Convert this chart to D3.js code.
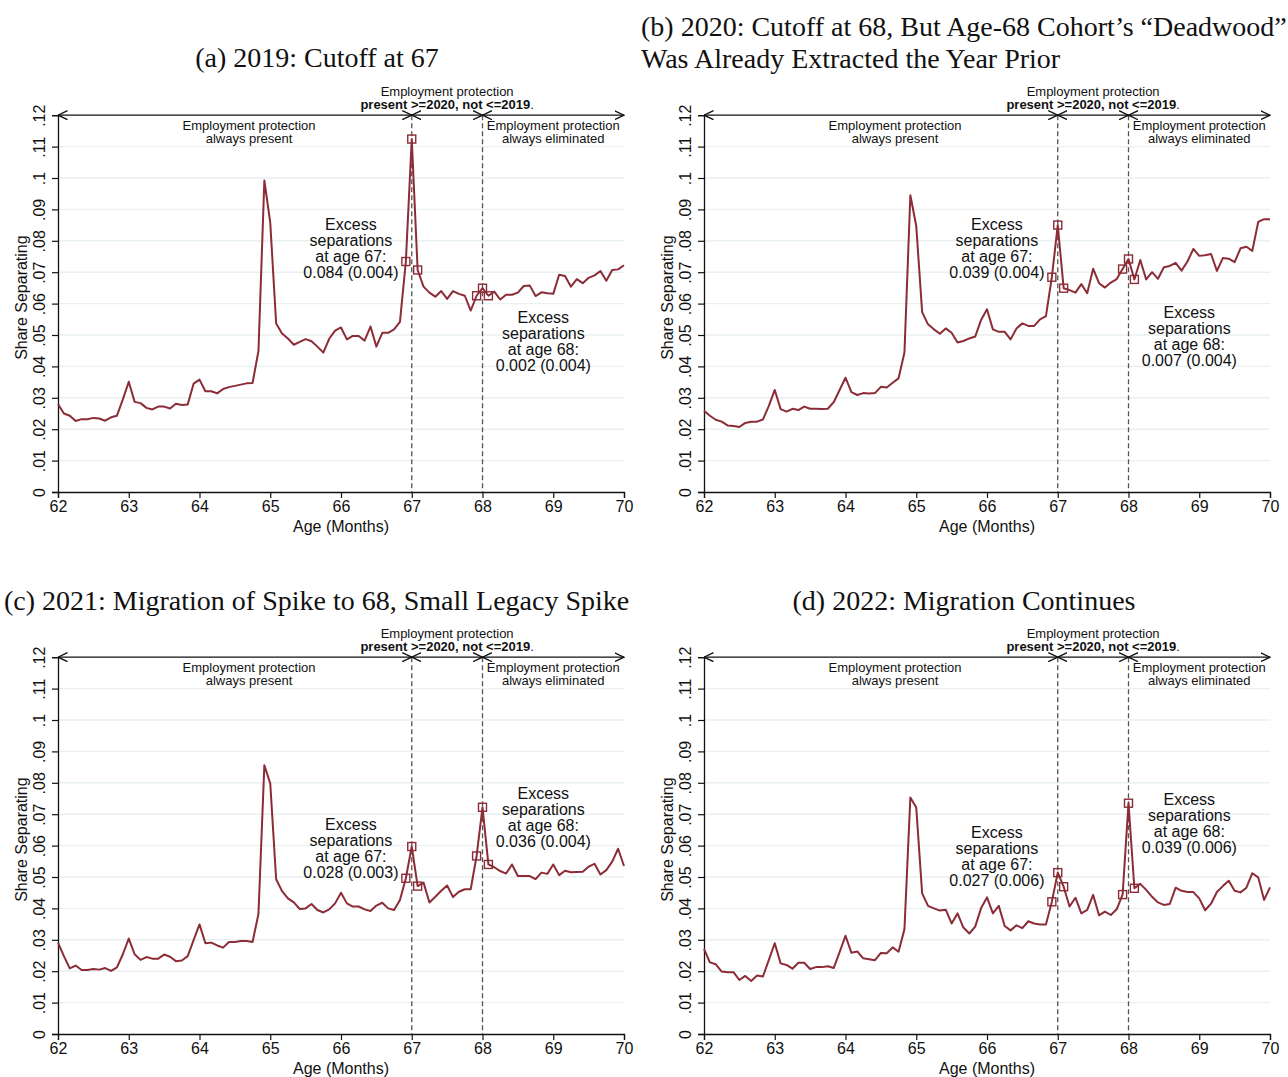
<!DOCTYPE html>
<html>
<head>
<meta charset="utf-8">
<script src="https://cdn.jsdelivr.net/npm/d3@7"></script>
<style>
  body { margin: 0; background: #fff; }
  text { font-family: "Liberation Sans", Arial, sans-serif; fill: #111; }
  .title { font-family: "Liberation Serif", "Times New Roman", serif; font-size: 28px; }
</style>
</head>
<body>
<svg id="chart" width="1288" height="1077"></svg>
<script>
// months since age 62 (0..96), one point per month
var months = d3.range(0, 97);

var share2019 = [
  .0280, .0250, .0243, .0226, .0232, .0232, .0236, .0234, .0227, .0238, .0243, .0295, .0351,
  .0287, .0283, .0268, .0263, .0272, .0272, .0266, .0281, .0277, .0279, .0345, .0358,
  .0321, .0321, .0314, .0328, .0334, .0338, .0342, .0346, .0347, .0449, .0992, .0858,
  .0537, .0505, .0489, .0469, .0478, .0487, .0480, .0463, .0444, .0488, .0514, .0524,
  .0486, .0497, .0497, .0482, .0527, .0463, .0507, .0507, .0518, .0542, .0734, .1124,
  .0707, .0654, .0635, .0622, .0640, .0615, .0640, .0631, .0625, .0578, .0625, .0649,
  .0625, .0638, .0613, .0628, .0628, .0635, .0656, .0658, .0624, .0636, .0633, .0631,
  .0692, .0688, .0654, .0678, .0665, .0682, .0690, .0704, .0673, .0707, .0709, .0722
];

var share2020 = [
  .0259, .0243, .0230, .0224, .0212, .0210, .0207, .0220, .0224, .0224, .0231, .0274, .0325,
  .0264, .0256, .0265, .0261, .0272, .0265, .0265, .0264, .0265, .0286, .0325, .0364,
  .0318, .0309, .0315, .0314, .0315, .0335, .0333, .0348, .0362, .0444, .0945, .0847,
  .0573, .0534, .0518, .0504, .0521, .0507, .0476, .0481, .0489, .0495, .0548, .0582,
  .0518, .0510, .0510, .0486, .0521, .0537, .0529, .0529, .0550, .0560, .0684, .0850,
  .0649, .0643, .0635, .0662, .0633, .0711, .0665, .0651, .0667, .0678, .0710, .0742,
  .0677, .0739, .0677, .0700, .0679, .0716, .0720, .0730, .0705, .0734, .0774, .0752,
  .0754, .0758, .0704, .0745, .0743, .0732, .0776, .0781, .0768, .0860, .0869, .0869
];

var share2021 = [
  .0291, .0248, .0209, .0218, .0204, .0204, .0207, .0205, .0210, .0201, .0212, .0254, .0304,
  .0254, .0236, .0245, .0240, .0240, .0253, .0246, .0232, .0234, .0248, .0299, .0349,
  .0289, .0291, .0282, .0275, .0293, .0293, .0296, .0296, .0293, .0382, .0856, .0798,
  .0493, .0455, .0432, .0419, .0398, .0400, .0414, .0395, .0387, .0397, .0416, .0450,
  .0416, .0406, .0406, .0397, .0392, .0409, .0418, .0400, .0395, .0427, .0496, .0597,
  .0471, .0482, .0419, .0437, .0456, .0473, .0436, .0453, .0461, .0461, .0567, .0722,
  .0540, .0531, .0519, .0511, .0540, .0503, .0503, .0503, .0493, .0514, .0510, .0540,
  .0506, .0520, .0515, .0516, .0517, .0533, .0542, .0508, .0522, .0549, .0590, .0535
];

var share2022 = [
  .0271, .0228, .0222, .0199, .0197, .0197, .0172, .0185, .0169, .0186, .0183, .0236, .0289,
  .0225, .0220, .0208, .0227, .0227, .0207, .0213, .0213, .0216, .0210, .0261, .0313,
  .0259, .0263, .0241, .0238, .0235, .0258, .0257, .0276, .0262, .0334, .0753, .0721,
  .0448, .0408, .0400, .0393, .0396, .0352, .0384, .0339, .0320, .0342, .0401, .0435,
  .0384, .0408, .0344, .0330, .0346, .0337, .0359, .0352, .0349, .0349, .0421, .0514,
  .0469, .0406, .0434, .0384, .0395, .0443, .0378, .0390, .0379, .0397, .0444, .0735,
  .0464, .0478, .0459, .0437, .0419, .0411, .0414, .0466, .0456, .0452, .0452, .0432,
  .0394, .0415, .0452, .0471, .0488, .0456, .0451, .0466, .0512, .0499, .0427, .0467
];

// months that get a hollow square marker (around 67 and 68)
var markerMonths = [59, 60, 61, 71, 72, 73];

var yTicks = [0, .01, .02, .03, .04, .05, .06, .07, .08, .09, .10, .11, .12];
var xTicks = [62, 63, 64, 65, 66, 67, 68, 69, 70];

var excess67 = ["0.084 (0.004)", "0.039 (0.004)", "0.028 (0.003)", "0.027 (0.006)"];
var excess68 = ["0.002 (0.004)", "0.007 (0.004)", "0.036 (0.004)", "0.039 (0.006)"];

var panels = [
  { series: share2019, x: 58,  y: 115.2, ann67: [66.14, .0854], ann68: [68.86, .0556] },
  { series: share2020, x: 704, y: 115.2, ann67: [66.14, .0854], ann68: [68.86, .0574] },
  { series: share2021, x: 58,  y: 657.2, ann67: [66.14, .0668], ann68: [68.86, .0767] },
  { series: share2022, x: 704, y: 657.2, ann67: [66.14, .0644], ann68: [68.86, .0748] }
];

var lineColor = "#8b2c37";
var width = 566, height = 376.8;

var svg = d3.select("#chart");

svg.append("defs").append("marker")
  .attr("id", "arrow")
  .attr("viewBox", "0 -5 10 10")
  .attr("refX", 9.5).attr("refY", 0)
  .attr("markerWidth", 10).attr("markerHeight", 10)
  .attr("markerUnits", "userSpaceOnUse")
  .attr("orient", "auto-start-reverse")
  .append("path")
  .attr("d", "M0,-4.5L9.5,0L0,4.5")
  .attr("fill", "none")
  .attr("stroke", "#111")
  .attr("stroke-width", 1.3);

// titles
svg.append("text").attr("class", "title").attr("x", 317).attr("y", 57)
  .attr("text-anchor", "middle").attr("dominant-baseline", "central")
  .text("(a) 2019: Cutoff at 67");
svg.append("text").attr("class", "title").attr("x", 641).attr("y", 26)
  .attr("dominant-baseline", "central")
  .text("(b) 2020: Cutoff at 68, But Age-68 Cohort\u2019s \u201cDeadwood\u201d");
svg.append("text").attr("class", "title").attr("x", 641).attr("y", 58)
  .attr("dominant-baseline", "central")
  .text("Was Already Extracted the Year Prior");
svg.append("text").attr("class", "title").attr("x", 4).attr("y", 600)
  .attr("dominant-baseline", "central")
  .text("(c) 2021: Migration of Spike to 68, Small Legacy Spike");
svg.append("text").attr("class", "title").attr("x", 964).attr("y", 600)
  .attr("text-anchor", "middle").attr("dominant-baseline", "central")
  .text("(d) 2022: Migration Continues");

var x = d3.scaleLinear().domain([62, 70]).range([0, width]);
var y = d3.scaleLinear().domain([0, .12]).range([height, 0]);

function age(m) { return 62 + m / 12; }

panels.forEach(function (p, pi) {
  var g = svg.append("g").attr("transform", "translate(" + p.x + "," + p.y + ")");

  // gridlines
  g.selectAll(".grid")
    .data(yTicks.filter(function (d) { return d > 0 && d < .12; }))
    .enter().append("line")
    .attr("x1", 0).attr("x2", width)
    .attr("y1", function (d) { return y(d); })
    .attr("y2", function (d) { return y(d); })
    .attr("stroke", "#e8f0f1")
    .attr("stroke-width", 1.4);

  // y axis
  var yAxis = d3.axisLeft(y).tickValues(yTicks).tickSize(6)
    .tickFormat(function (d) { return d === 0 ? "0" : d3.format(".2~f")(d).replace(/^0/, ""); });
  var ya = g.append("g").call(yAxis);
  ya.select(".domain").attr("stroke", "#111").attr("stroke-width", 1.3);
  ya.selectAll(".tick line").attr("stroke", "#111").attr("stroke-width", 1.2);
  ya.selectAll(".tick text")
    .attr("x", null).attr("dy", null)
    .attr("font-size", 16)
    .attr("font-family", "Liberation Sans, Arial, sans-serif")
    .attr("fill", "#111")
    .attr("text-anchor", "middle")
    .attr("transform", "translate(-13,0) rotate(-90)");

  // x axis
  var xAxis = d3.axisBottom(x).tickValues(xTicks).tickSize(6).tickFormat(d3.format("d"));
  var xa = g.append("g").attr("transform", "translate(0," + height + ")").call(xAxis);
  xa.select(".domain").attr("stroke", "#111").attr("stroke-width", 1.3);
  xa.selectAll(".tick line").attr("stroke", "#111").attr("stroke-width", 1.2);
  xa.selectAll(".tick text")
    .attr("font-size", 16)
    .attr("font-family", "Liberation Sans, Arial, sans-serif")
    .attr("fill", "#111")
    .attr("y", 9);

  // axis titles
  g.append("text")
    .attr("transform", "translate(" + (-31) + "," + (height / 2 - 6) + ") rotate(-90)")
    .attr("text-anchor", "middle").attr("font-size", 16)
    .text("Share Separating");
  g.append("text")
    .attr("x", width / 2).attr("y", height + 40)
    .attr("text-anchor", "middle").attr("font-size", 16)
    .text("Age (Months)");

  // dashed cutoffs
  g.selectAll(".cut").data([67, 68]).enter().append("line")
    .attr("x1", function (d) { return x(d); })
    .attr("x2", function (d) { return x(d); })
    .attr("y1", y(.12)).attr("y2", height)
    .attr("stroke", "#555").attr("stroke-width", 1.3)
    .attr("stroke-dasharray", "5,3");

  // arrows along the top
  [[62, 67], [67, 68], [68, 70]].forEach(function (seg) {
    g.append("line")
      .attr("x1", x(seg[0])).attr("x2", x(seg[1]))
      .attr("y1", y(.12)).attr("y2", y(.12))
      .attr("stroke", "#111").attr("stroke-width", 1.3)
      .attr("marker-start", "url(#arrow)")
      .attr("marker-end", "url(#arrow)");
  });

  var top = g.append("text").attr("x", x(67.5)).attr("text-anchor", "middle").attr("font-size", 13);
  top.append("tspan").attr("x", x(67.5)).attr("y", y(.12) - 19).text("Employment protection");
  var t2 = top.append("tspan").attr("x", x(67.5)).attr("y", y(.12) - 6);
  t2.append("tspan").attr("font-weight", "bold").text("present >=2020, not <=2019");
  t2.append("tspan").text(".");

  var lft = g.append("text").attr("text-anchor", "middle").attr("font-size", 13);
  lft.append("tspan").attr("x", x(64.7)).attr("y", y(.12) + 15).text("Employment protection");
  lft.append("tspan").attr("x", x(64.7)).attr("y", y(.12) + 28).text("always present");

  var rgt = g.append("text").attr("text-anchor", "middle").attr("font-size", 13);
  rgt.append("tspan").attr("x", x(69)).attr("y", y(.12) + 15).text("Employment protection");
  rgt.append("tspan").attr("x", x(69)).attr("y", y(.12) + 28).text("always eliminated");

  // the series
  var line = d3.line()
    .x(function (d) { return x(age(d)); })
    .y(function (d) { return y(p.series[d]); });
  g.append("path").datum(months)
    .attr("d", line)
    .attr("fill", "none")
    .attr("stroke", lineColor)
    .attr("stroke-width", 2)
    .attr("stroke-linejoin", "round");

  g.selectAll(".mk").data(markerMonths).enter().append("rect")
    .attr("x", function (d) { return x(age(d)) - 4; })
    .attr("y", function (d) { return y(p.series[d]) - 4; })
    .attr("width", 8).attr("height", 8)
    .attr("fill", "none")
    .attr("stroke", lineColor)
    .attr("stroke-width", 1.4);

  // excess separation notes
  function note(pos, label, value) {
    var t = g.append("text").attr("text-anchor", "middle").attr("font-size", 16);
    ["Excess", "separations", label, value].forEach(function (s, i) {
      t.append("tspan").attr("x", x(pos[0]))
        .attr("y", y(pos[1]) + 6 + i * 16)
        .text(s);
    });
  }
  note(p.ann67, "at age 67:", excess67[pi]);
  note(p.ann68, "at age 68:", excess68[pi]);
});
</script>
</body>
</html>
